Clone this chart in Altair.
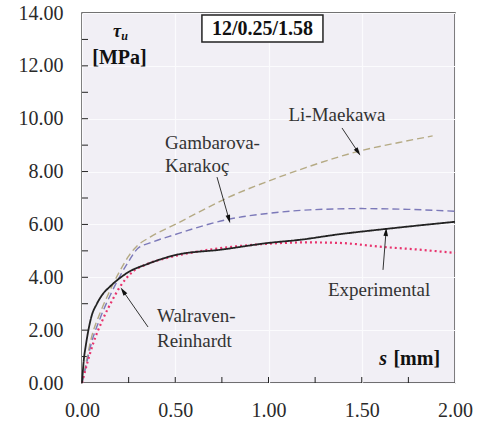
import altair as alt
import pandas as pd

# Slip s [mm] vs. shear stress tau_u [MPa] for specimen 12/0.25/1.58
exp_s = [0, 0.01, 0.02, 0.05, 0.08, 0.11, 0.15, 0.19, 0.25, 0.35, 0.5, 0.75, 1.0, 1.17, 1.37, 1.63, 2.0]
exp_tau = [0, 0.9, 1.4, 2.5, 3.0, 3.35, 3.65, 3.9, 4.2, 4.5, 4.84, 5.05, 5.3, 5.42, 5.62, 5.83, 6.1]

wr_s = [0, 0.03, 0.06, 0.11, 0.16, 0.2, 0.27, 0.35, 0.455, 0.6, 0.8, 1.0, 1.2, 1.38, 1.61, 1.8, 2.0]
wr_tau = [0, 0.8, 1.5, 2.38, 3.1, 3.6, 4.2, 4.5, 4.73, 4.95, 5.15, 5.27, 5.32, 5.3, 5.15, 5.05, 4.92]

gk_s = [0, 0.02, 0.05, 0.1, 0.15, 0.2, 0.25, 0.3, 0.365, 0.5, 0.65, 0.79, 1.0, 1.22, 1.5, 1.75, 2.0]
gk_tau = [0, 0.6, 1.5, 2.5, 3.3, 4.0, 4.6, 5.1, 5.3, 5.62, 5.95, 6.2, 6.42, 6.55, 6.6, 6.57, 6.5]

lm_s = [0, 0.02, 0.05, 0.1, 0.15, 0.2, 0.25, 0.29, 0.365, 0.5, 0.65, 0.79, 1.0, 1.2, 1.49, 1.7, 1.88]
lm_tau = [0, 0.7, 1.7, 2.7, 3.5, 4.2, 4.8, 5.15, 5.52, 6.0, 6.55, 7.04, 7.64, 8.15, 8.78, 9.1, 9.35]

x_labels = [0, 0.5, 1.0, 1.5, 2.0]
y_labels = [0, 2, 4, 6, 8, 10, 12, 14]
x_minor = [0.25 * i for i in range(1, 8)]
y_minor = list(range(1, 14))

# curve labels
lbl_text = ["Li-Maekawa", "Experimental"]
lbl_s = [1.367, 1.593]
lbl_tau = [10.14, 3.52]
left_text = ["Gambarova-", "Karakoç", "Walraven-", "Reinhardt"]
left_s = [0.445, 0.445, 0.402, 0.402]
left_tau = [9.08, 8.21, 2.53, 1.59]

# leader arrows: tail -> head
arr_s0 = [1.394, 0.724, 0.354, 1.614]
arr_t0 = [9.65, 7.79, 2.12, 4.28]
arr_s1 = [1.48, 0.788, 0.22, 1.63]
arr_t1 = [8.74, 6.2, 3.48, 5.72]
arr_ang = [146, 164, 325, 4]

FONT = "Liberation Serif"
INK = "#222222"

xs = alt.Scale(domain=[0, 2], nice=False, zero=False)
ys = alt.Scale(domain=[0, 14], nice=False, zero=False)
x_axis = alt.Axis(values=x_labels, format=".2f", labelPadding=17, labelFlush=False, title=None)
y_axis = alt.Axis(values=y_labels, format=".2f", labelPadding=19, labelFlush=False, title=None)


def X(field):
    return alt.X(field, scale=xs, axis=x_axis)


def Y(field):
    return alt.Y(field, scale=ys, axis=y_axis)


def series(s, tau):
    return pd.DataFrame({"s": s, "tau": tau})


def curve(df, color, dash, width):
    return alt.Chart(df).mark_line(
        color=color, strokeDash=dash, strokeWidth=width, interpolate="monotone"
    ).encode(x=X("s:Q"), y=Y("tau:Q"))


y_ticks = alt.Chart(pd.DataFrame({"v": y_minor})).mark_rule(color=INK, strokeWidth=1).encode(
    y=Y("v:Q"), x=alt.value(0), x2=alt.value(6)
)
x_ticks = alt.Chart(pd.DataFrame({"v": x_minor})).mark_rule(color=INK, strokeWidth=1).encode(
    x=X("v:Q"), y=alt.value(370), y2=alt.value(364)
)

lm = curve(series(lm_s, lm_tau), "#b5aa84", [7, 4], 1.4)
gk = curve(series(gk_s, gk_tau), "#7c79b9", [7, 4], 1.4)
wr = curve(series(wr_s, wr_tau), "#e8336d", [2, 3], 2.2)
ex = curve(series(exp_s, exp_tau), INK, [1, 0], 1.8)

arrows_df = pd.DataFrame({"s0": arr_s0, "t0": arr_t0, "s1": arr_s1, "t1": arr_t1, "ang": arr_ang})
arrow_lines = alt.Chart(arrows_df).mark_rule(color="#333333", strokeWidth=1).encode(
    x=X("s0:Q"), y=Y("t0:Q"), x2="s1:Q", y2="t1:Q",
)
arrow_heads = alt.Chart(arrows_df).mark_point(
    shape="M0,-1L0.55,1L-0.55,1Z", filled=True, color="#111111", size=70, opacity=1
).encode(
    x=X("s1:Q"), y=Y("t1:Q"), angle=alt.Angle("ang:Q", scale=None),
)

centered = alt.Chart(pd.DataFrame({"t": lbl_text, "s": lbl_s, "tau": lbl_tau})).mark_text(
    font=FONT, fontSize=19, color="#333333", align="center", baseline="middle"
).encode(x=X("s:Q"), y=Y("tau:Q"), text="t:N")

lefts = alt.Chart(pd.DataFrame({"t": left_text, "s": left_s, "tau": left_tau})).mark_text(
    font=FONT, fontSize=19, color="#333333", align="left", baseline="middle"
).encode(x=X("s:Q"), y=Y("tau:Q"), text="t:N")

# specimen id box
box = alt.Chart(pd.DataFrame({"s0": [0.643], "s1": [1.292], "t0": [12.9], "t1": [13.92]})).mark_rect(
    fill="white", stroke=INK, strokeWidth=1.5
).encode(x=X("s0:Q"), x2="s1:Q", y=Y("t0:Q"), y2="t1:Q")
box_text = alt.Chart(pd.DataFrame({"t": ["12/0.25/1.58"], "s": [0.968], "tau": [13.39]})).mark_text(
    font=FONT, fontSize=20, fontWeight="bold", color="#111111", align="center", baseline="middle"
).encode(x=X("s:Q"), y=Y("tau:Q"), text="t:N")


# axis titles placed inside the frame
def note(text, s, tau, size, style="normal", align="center"):
    return alt.Chart(pd.DataFrame({"t": [text], "s": [s], "tau": [tau]})).mark_text(
        font=FONT, fontSize=size, fontWeight="bold", fontStyle=style, color="#111111",
        align=align, baseline="middle"
    ).encode(x=X("s:Q"), y=Y("tau:Q"), text="t:N")


tau_sym = note("τ", 0.188, 13.3, 18, "italic")
tau_sub = note("u", 0.228, 13.12, 12, "italic")
mpa = note("[MPa]", 0.201, 12.28, 20)
s_sym = note("s", 1.635, 0.91, 20, "italic", "right")
mm = note("[mm]", 1.92, 0.91, 20, "normal", "right")

chart = alt.layer(
    y_ticks, x_ticks, lm, gk, wr, ex, arrow_lines, arrow_heads,
    centered, lefts, box, box_text, tau_sym, tau_sub, mpa, s_sym, mm
).properties(
    width=373, height=370,
    autosize=alt.AutoSizeParams(type="none"),
    padding={"left": 82, "top": 13, "right": 26, "bottom": 44},
    background="white",
).configure_view(
    fill="#f1eff5", stroke="#444444", strokeWidth=1.5
).configure_axis(
    labelFont=FONT, labelFontSize=20, labelColor="#2a2a2a",
    domain=False, ticks=False, grid=True, gridColor="#fbfbfd", gridWidth=1.2,
)

chart.save("out.html", embed_options={"renderer": "svg", "actions": False})
